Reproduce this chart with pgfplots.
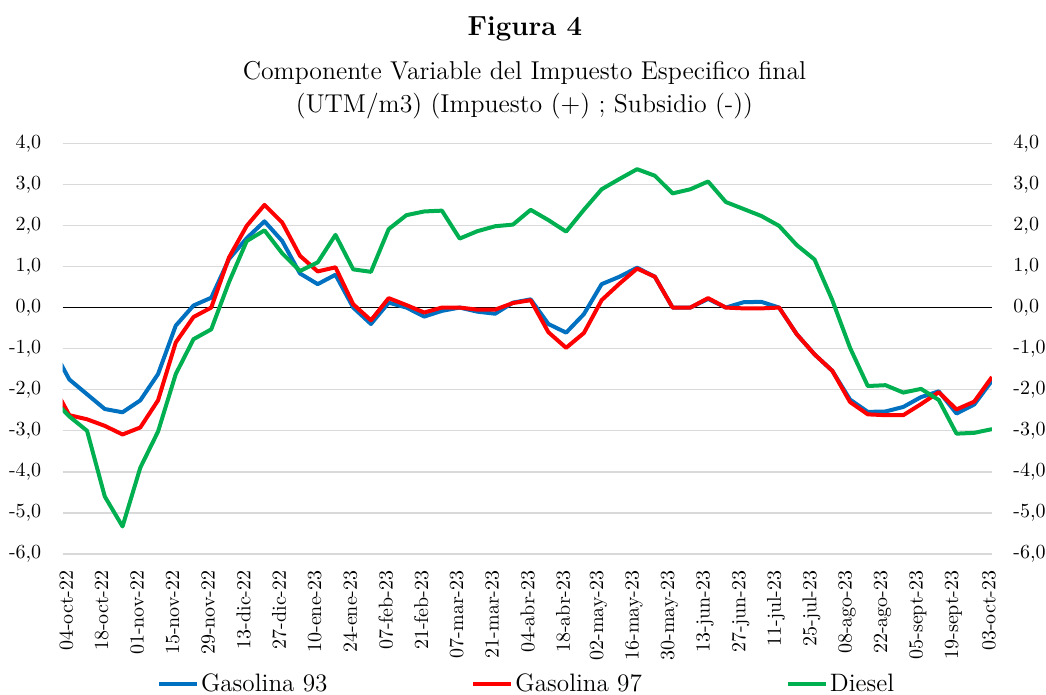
\documentclass[border=0pt]{standalone}
\usepackage{fontspec}
\usepackage{pgfplots}
\usepackage{pgfplotstable}
\pgfplotsset{compat=1.18}
\definecolor{cblue}{RGB}{0,112,192}
\definecolor{cred}{RGB}{255,0,0}
\definecolor{cgreen}{RGB}{0,176,80}
\definecolor{cgrid}{RGB}{217,217,217}
\pgfplotstableread{
i g93 g97 diesel
-1 -0.95 -1.82 -2.20
0 -1.75 -2.62 -2.65
1 -2.11 -2.72 -3.00
2 -2.47 -2.88 -4.60
3 -2.55 -3.09 -5.33
4 -2.26 -2.92 -3.90
5 -1.62 -2.26 -3.02
6 -0.44 -0.85 -1.62
7 0.05 -0.23 -0.77
8 0.24 0.00 -0.53
9 1.18 1.22 0.62
10 1.69 1.99 1.62
11 2.10 2.50 1.88
12 1.62 2.07 1.32
13 0.83 1.26 0.89
14 0.57 0.88 1.10
15 0.80 0.98 1.77
16 0.00 0.08 0.93
17 -0.40 -0.31 0.87
18 0.12 0.23 1.91
19 0.00 0.06 2.25
20 -0.22 -0.12 2.34
21 -0.08 0.00 2.36
22 0.00 0.00 1.68
23 -0.10 -0.05 1.86
24 -0.15 -0.05 1.98
25 0.12 0.11 2.02
26 0.20 0.18 2.38
27 -0.40 -0.60 2.13
28 -0.61 -0.98 1.85
29 -0.16 -0.62 2.38
30 0.57 0.18 2.88
31 0.75 0.58 3.13
32 0.97 0.95 3.37
33 0.75 0.75 3.21
34 0.00 0.00 2.78
35 0.00 0.00 2.88
36 0.21 0.23 3.07
37 0.00 0.00 2.57
38 0.13 -0.02 2.40
39 0.14 -0.02 2.23
40 0.00 0.00 1.99
41 -0.65 -0.65 1.52
42 -1.14 -1.14 1.17
43 -1.54 -1.54 0.18
44 -2.24 -2.30 -0.98
45 -2.54 -2.60 -1.91
46 -2.53 -2.62 -1.89
47 -2.42 -2.62 -2.07
48 -2.18 -2.35 -1.98
49 -2.04 -2.06 -2.25
50 -2.58 -2.48 -3.07
51 -2.36 -2.29 -3.05
52 -1.78 -1.69 -2.96
}\datatable
\begin{document}
\begin{tikzpicture}
\pgfplotsset{
  common/.style={
    scale only axis, width=464.65pt, height=205.35pt,
    xmin=-0.372, xmax=52, ymin=-6, ymax=4,
    ytick={-6,-5,...,4},
    yticklabels={{-6,0},{-5,0},{-4,0},{-3,0},{-2,0},{-1,0},{0,0},{1,0},{2,0},{3,0},{4,0}},
    major tick length=0pt,
    tick label style={font=\fontsize{10}{12}\selectfont},
    yticklabel shift=7.2pt,
  }
}
\begin{axis}[common,
  axis x line*=bottom, x axis line style={draw=none}, xtick=\empty,
  axis y line*=left, y axis line style={draw=none},
  ymajorgrids, grid style={cgrid, line width=0.65pt},
  legend columns=3,
  legend style={draw=none, fill=none, inner sep=0pt, outer sep=0pt,
    at={(0.1015,-0.3165)}, anchor=west,
    font=\fontsize{12.6}{14}\selectfont,
    nodes={inner xsep=1pt, inner ysep=0pt},
    /tikz/every even column/.append style={column sep=71pt}},
  legend image code/.code={\draw[#1, line width=2pt] (0pt,0pt) -- (19pt,0pt);},
  clip=true,
]
\addplot[black, line width=0.6pt, forget plot] coordinates {(-0.372,0) (52,0)};
\addplot[cblue, line width=2pt, line join=round] table[x=i, y=g93] {\datatable};
\addlegendentry{Gasolina 93}
\addplot[cred, line width=2pt, line join=round] table[x=i, y=g97] {\datatable};
\addlegendentry{Gasolina 97}
\addplot[cgreen, line width=2pt, line join=round] table[x=i, y=diesel] {\datatable};
\addlegendentry{Diesel}
\end{axis}
\begin{axis}[common,
  axis x line*=bottom, x axis line style={draw=none},
  xtick={0,2,...,52},
  xticklabels={04-oct-22,18-oct-22,01-nov-22,15-nov-22,29-nov-22,13-dic-22,27-dic-22,10-ene-23,24-ene-23,07-feb-23,21-feb-23,07-mar-23,21-mar-23,04-abr-23,18-abr-23,02-may-23,16-may-23,30-may-23,13-jun-23,27-jun-23,11-jul-23,25-jul-23,08-ago-23,22-ago-23,05-sept-23,19-sept-23,03-oct-23},
  xticklabel style={xshift=-1.5pt, rotate=90, anchor=east},
  xticklabel shift=4.7pt,
  axis y line*=right, y axis line style={draw=none},
]
\end{axis}
\node[anchor=base, font=\fontsize{13.8}{16}\selectfont\bfseries] at (231.15pt,259pt) {Figura 4};
\node[anchor=base, font=\fontsize{12.9}{15}\selectfont] at (230.9pt,237pt) {Componente Variable del Impuesto Especifico final};
\node[anchor=base, font=\fontsize{12.9}{15}\selectfont] at (230.9pt,220.5pt) {(UTM/m3) (Impuesto (+) ; Subsidio (-))};
\pgfresetboundingbox
\path[use as bounding box] (-31.35pt,-70.5pt) rectangle (491.65pt,277pt);
\end{tikzpicture}
\end{document}
